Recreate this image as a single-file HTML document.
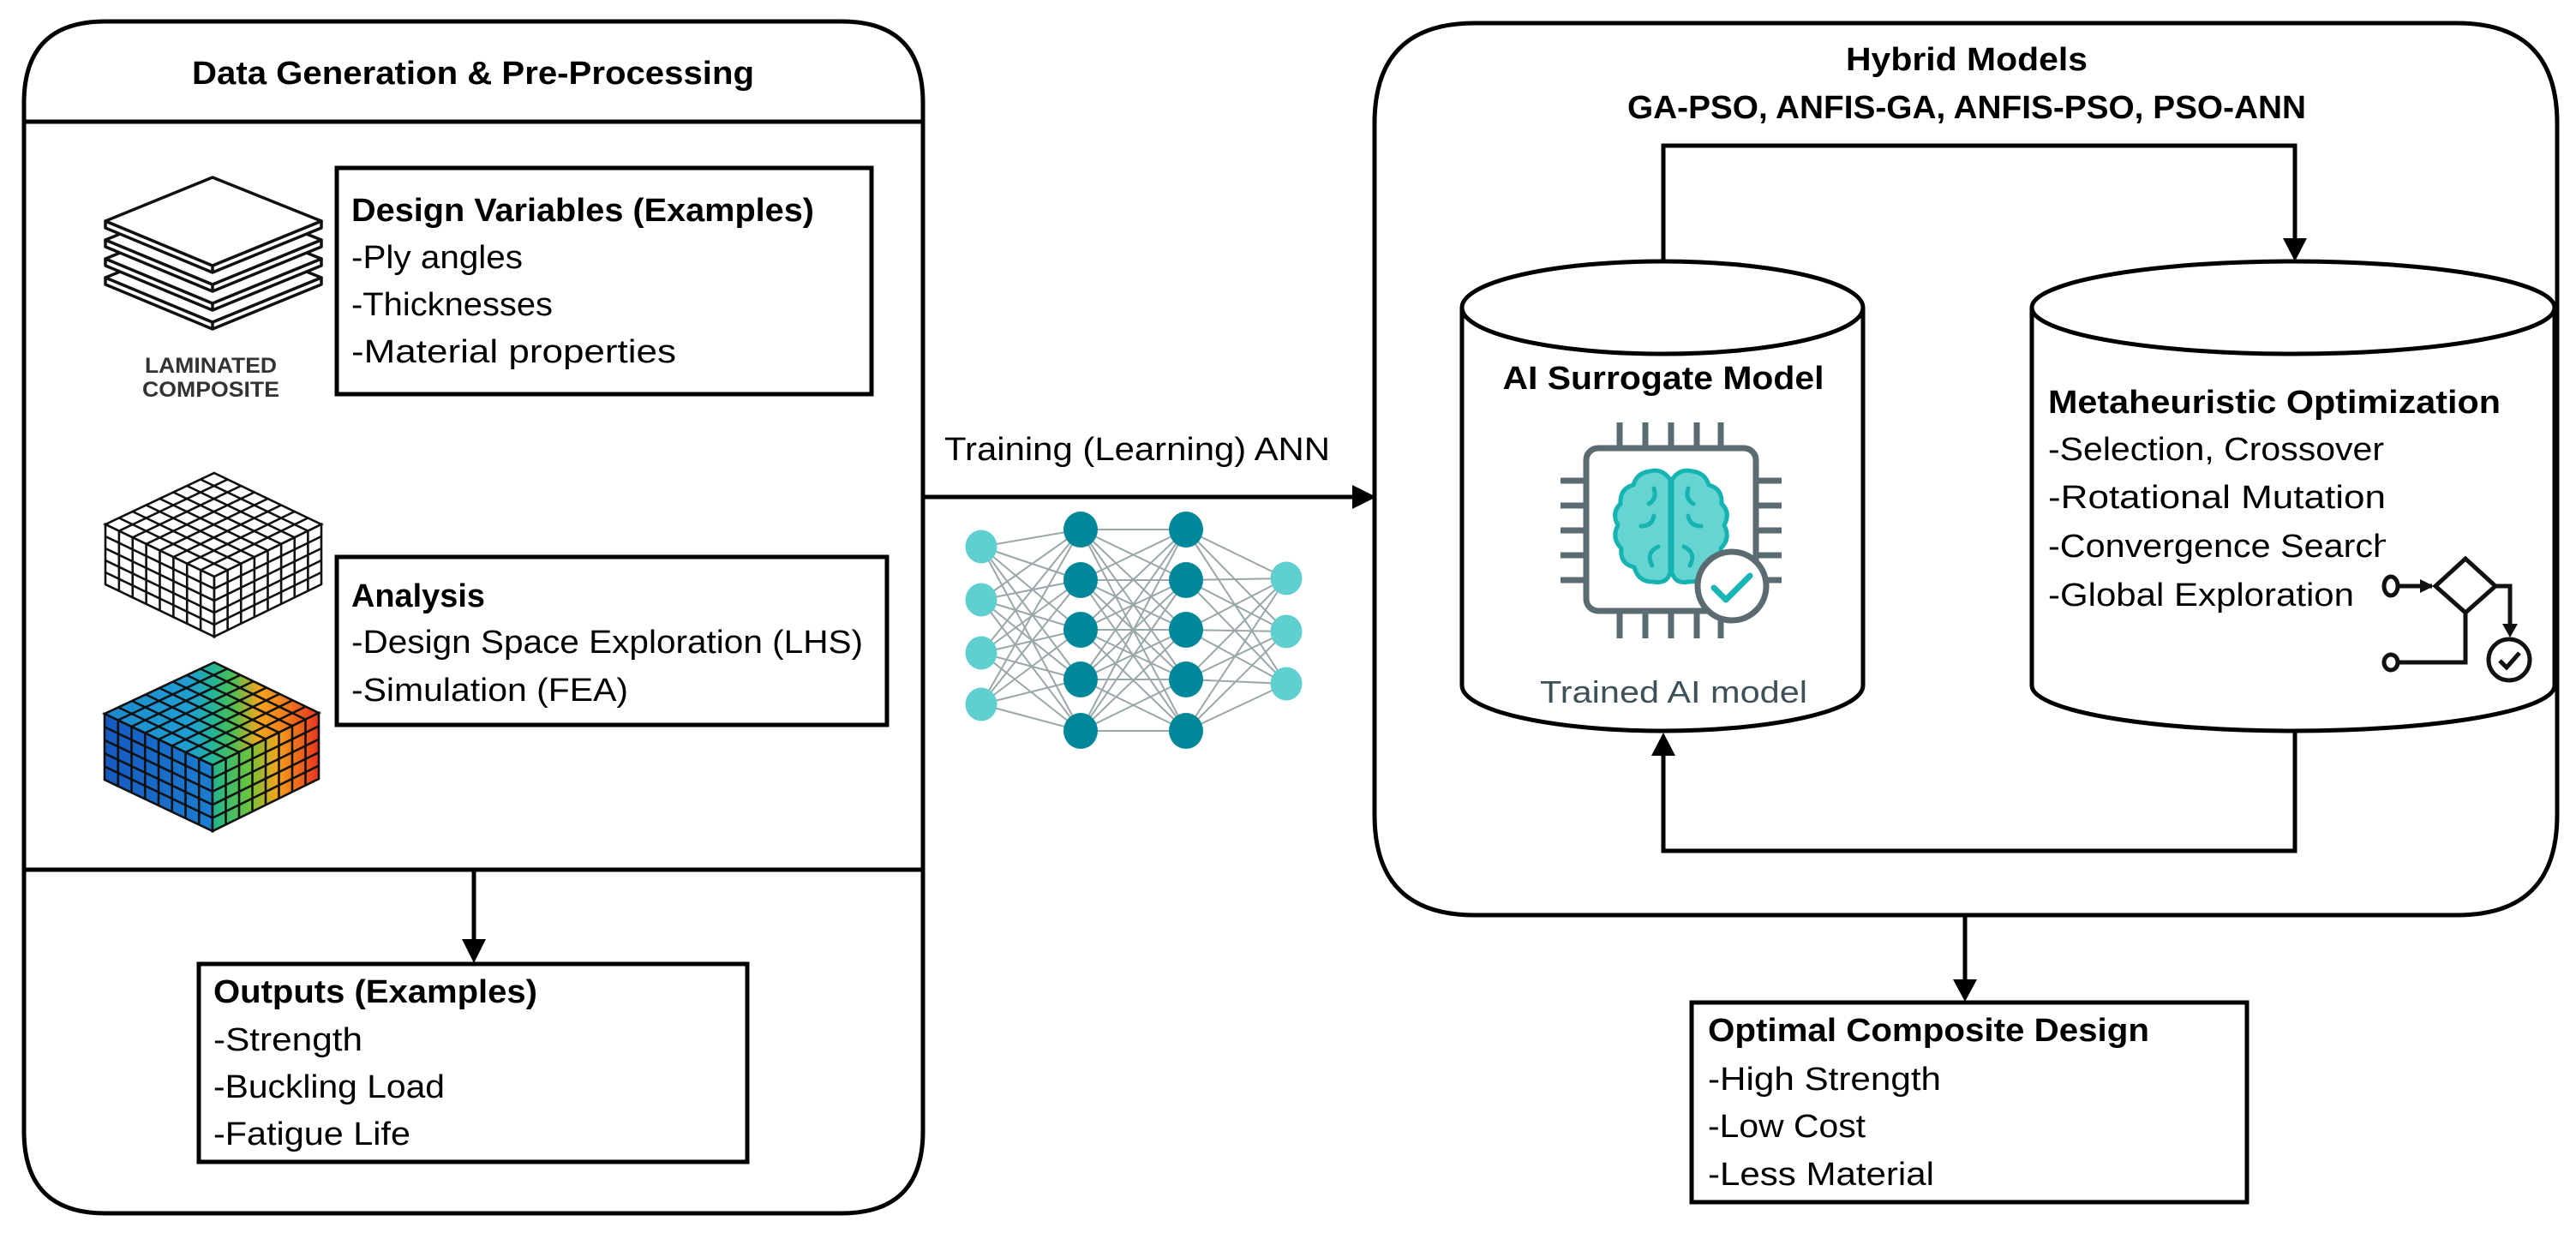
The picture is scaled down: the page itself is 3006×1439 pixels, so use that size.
<!DOCTYPE html>
<html><head><meta charset="utf-8">
<style>
html,body{margin:0;padding:0;background:#fff;}
svg{display:block;}
text{font-family:"Liberation Sans",sans-serif;}
</style></head>
<body>
<svg id="s" width="3006" height="1439" viewBox="0 0 3006 1439" xmlns="http://www.w3.org/2000/svg">
<defs>
<marker id="ah" markerWidth="10" markerHeight="10" refX="9" refY="5" orient="auto" markerUnits="userSpaceOnUse" viewBox="0 0 10 10">
</marker>
<linearGradient id="gTop" x1="0" y1="0" x2="1" y2="0">
<stop offset="0" stop-color="#1e88cc"/><stop offset="0.4" stop-color="#1f9ed3"/>
<stop offset="0.5" stop-color="#22b39a"/><stop offset="0.6" stop-color="#4cbf52"/>
<stop offset="0.72" stop-color="#f2a51c"/><stop offset="0.85" stop-color="#f07a1e"/><stop offset="1" stop-color="#e8321f"/>
</linearGradient>
<linearGradient id="gL" x1="0" y1="0" x2="1" y2="0">
<stop offset="0" stop-color="#1659c0"/><stop offset="1" stop-color="#1b7ed0"/>
</linearGradient>
<linearGradient id="gR" x1="0" y1="0" x2="1" y2="0">
<stop offset="0" stop-color="#20b48e"/><stop offset="0.35" stop-color="#6cc43a"/>
<stop offset="0.6" stop-color="#f3a41b"/><stop offset="1" stop-color="#e8341f"/>
</linearGradient>
<clipPath id="mclip"><rect x="2380" y="500" width="404" height="230"/></clipPath>
</defs>

<!-- Left container -->
<path d="M28,1015 L28,120 Q28,25 123,25 L982,25 Q1077,25 1077,120 L1077,1320 Q1077,1416 982,1416 L123,1416 Q28,1416 28,1320 Z" fill="none" stroke="#000" stroke-width="5"/>
<line x1="28" y1="142" x2="1077" y2="142" stroke="#000" stroke-width="5"/>
<line x1="28" y1="1015" x2="1077" y2="1015" stroke="#000" stroke-width="5"/>
<text x="552" y="98" text-anchor="middle" font-weight="bold" font-size="38" textLength="656" lengthAdjust="spacingAndGlyphs">Data Generation &amp; Pre-Processing</text>

<!-- Design box -->
<rect x="393" y="196" width="624" height="264" fill="none" stroke="#000" stroke-width="5"/>
<g font-size="38">
<text x="410" y="258" font-weight="bold" textLength="540" lengthAdjust="spacingAndGlyphs">Design Variables (Examples)</text>
<text x="410" y="313" textLength="200" lengthAdjust="spacingAndGlyphs">-Ply angles</text>
<text x="410" y="368" textLength="235" lengthAdjust="spacingAndGlyphs">-Thicknesses</text>
<text x="410" y="423" textLength="379" lengthAdjust="spacingAndGlyphs">-Material properties</text>
</g>

<!-- Analysis box -->
<rect x="393" y="650" width="642" height="196" fill="none" stroke="#000" stroke-width="5"/>
<g font-size="38">
<text x="410" y="708" font-weight="bold" textLength="156" lengthAdjust="spacingAndGlyphs">Analysis</text>
<text x="410" y="762" textLength="597" lengthAdjust="spacingAndGlyphs">-Design Space Exploration (LHS)</text>
<text x="410" y="818" textLength="323" lengthAdjust="spacingAndGlyphs">-Simulation (FEA)</text>
</g>

<!-- Outputs -->
<line x1="553" y1="1015" x2="553" y2="1098" stroke="#000" stroke-width="5"/>
<polygon points="539,1096 567,1096 553,1124" fill="#000"/>
<rect x="232" y="1125" width="640" height="231" fill="none" stroke="#000" stroke-width="5"/>
<g font-size="38">
<text x="249" y="1170" font-weight="bold" textLength="378" lengthAdjust="spacingAndGlyphs">Outputs (Examples)</text>
<text x="249" y="1226" textLength="174" lengthAdjust="spacingAndGlyphs">-Strength</text>
<text x="249" y="1281" textLength="270" lengthAdjust="spacingAndGlyphs">-Buckling Load</text>
<text x="249" y="1336" textLength="230" lengthAdjust="spacingAndGlyphs">-Fatigue Life</text>
</g>

<!-- Laminated icon -->
<g id="lam" fill="#fff" stroke="#111" stroke-width="3.5" stroke-linejoin="round"></g>
<text x="246" y="435" text-anchor="middle" font-weight="bold" font-size="25" fill="#333" textLength="154" lengthAdjust="spacingAndGlyphs">LAMINATED</text>
<text x="246" y="463" text-anchor="middle" font-weight="bold" font-size="25" fill="#333" textLength="160" lengthAdjust="spacingAndGlyphs">COMPOSITE</text>

<g id="mesh"></g>
<g id="fea"></g>

<!-- Training arrow -->
<line x1="1077" y1="580" x2="1580" y2="580" stroke="#000" stroke-width="5"/>
<polygon points="1578,566 1606,580 1578,594" fill="#000"/>
<text x="1102" y="537" font-size="38" textLength="450" lengthAdjust="spacingAndGlyphs">Training (Learning) ANN</text>

<g id="nn"></g>

<!-- Right container -->
<path d="M1604,144 Q1604,27 1721,27 L2867,27 Q2984,27 2984,144 L2984,951 Q2984,1068 2867,1068 L1721,1068 Q1604,1068 1604,951 Z" fill="none" stroke="#000" stroke-width="5"/>
<text x="2295" y="82" text-anchor="middle" font-weight="bold" font-size="38" textLength="282" lengthAdjust="spacingAndGlyphs">Hybrid Models</text>
<text x="2295" y="138" text-anchor="middle" font-weight="bold" font-size="38" textLength="792" lengthAdjust="spacingAndGlyphs">GA-PSO, ANFIS-GA, ANFIS-PSO, PSO-ANN</text>

<!-- top loop -->
<polyline points="1941,305 1941,170 2678,170 2678,280" fill="none" stroke="#000" stroke-width="5"/>
<polygon points="2664,278 2692,278 2678,305" fill="#000"/>
<!-- bottom loop -->
<polyline points="2678,853 2678,993 1941,993 1941,880" fill="none" stroke="#000" stroke-width="5"/>
<polygon points="1927,882 1955,882 1941,855" fill="#000"/>

<!-- Cylinder 1 -->
<path d="M1706,359 L1706,800 A234,53 0 0 0 2174,800 L2174,359" fill="#fff" stroke="#000" stroke-width="5"/>
<ellipse cx="1940" cy="359" rx="234" ry="54" fill="#fff" stroke="#000" stroke-width="5"/>
<text x="1941" y="454" text-anchor="middle" font-weight="bold" font-size="38" textLength="375" lengthAdjust="spacingAndGlyphs">AI Surrogate Model</text>
<text x="1953" y="820" text-anchor="middle" font-size="36" fill="#3e5159" textLength="312" lengthAdjust="spacingAndGlyphs">Trained AI model</text>

<!-- chip icon -->
<g stroke="#5b6b72" stroke-width="7" stroke-linecap="butt" fill="none">
<path d="M1890,493V523M1920,493V523M1950,493V523M1980,493V523M2008,493V523"/>
<path d="M1890,713V745M1920,713V745M1950,713V745M1980,713V745M2008,713V745"/>
<path d="M1821,561H1851M1821,590H1851M1821,619H1851M1821,648H1851M1821,677H1851"/>
<path d="M2049,561H2079M2049,590H2079M2049,619H2079M2049,648H2079M2049,677H2079"/>
<rect x="1851" y="523" width="198" height="190" rx="14" fill="#fff"/>
</g>
<!-- brain -->
<g fill="#66d4d1" stroke="#16b3b3" stroke-width="5" stroke-linejoin="round">
<path d="M1949,560 Q1940,546 1925,550 Q1910,552 1906,566 Q1890,570 1891,588 Q1880,598 1888,613 Q1880,628 1892,640 Q1890,658 1907,662 Q1912,680 1930,679 Q1945,682 1949,668 Z"/>
<path d="M1951,560 Q1960,546 1975,550 Q1990,552 1994,566 Q2010,570 2009,588 Q2020,598 2012,613 Q2020,628 2008,640 Q2010,658 1993,662 Q1988,680 1970,679 Q1955,682 1951,668 Z"/>
</g>
<g fill="none" stroke="#16b3b3" stroke-width="5" stroke-linecap="round">
<path d="M1930,570 Q1934,582 1924,588"/><path d="M1970,570 Q1966,582 1976,588"/>
<path d="M1915,614 Q1928,614 1930,602"/><path d="M1985,614 Q1972,614 1970,602"/>
<path d="M1928,660 Q1920,645 1935,638"/><path d="M1972,660 Q1980,645 1965,638"/>
</g>
<circle cx="2021" cy="684" r="40" fill="#fff" stroke="#5b6b72" stroke-width="7"/>
<polyline points="2000,686 2014,700 2042,672" fill="none" stroke="#1ab5b5" stroke-width="7" stroke-linecap="round" stroke-linejoin="round"/>

<!-- Cylinder 2 -->
<path d="M2371,359 L2371,800 A305,53 0 0 0 2981,800 L2981,359" fill="#fff" stroke="#000" stroke-width="5"/>
<ellipse cx="2676" cy="359" rx="305" ry="54" fill="#fff" stroke="#000" stroke-width="5"/>
<text x="2390" y="482" font-weight="bold" font-size="38" textLength="528" lengthAdjust="spacingAndGlyphs">Metaheuristic Optimization</text>
<g font-size="38" clip-path="url(#mclip)">
<text x="2390" y="537" textLength="392" lengthAdjust="spacingAndGlyphs">-Selection, Crossover</text>
<text x="2390" y="593" textLength="394" lengthAdjust="spacingAndGlyphs">-Rotational Mutation</text>
<text x="2390" y="650" textLength="402" lengthAdjust="spacingAndGlyphs">-Convergence Search</text>
</g>
<text x="2390" y="707" font-size="38" textLength="357" lengthAdjust="spacingAndGlyphs">-Global Exploration</text>

<!-- flow icon -->
<g fill="none" stroke="#111" stroke-width="5">
<ellipse cx="2790" cy="684" rx="8" ry="11"/>
<line x1="2798" y1="684" x2="2838" y2="684"/>
<polygon points="2842,684 2877,652 2912,684 2877,715"/>
<polyline points="2912,684 2929,684 2929,728"/>
<circle cx="2928" cy="770" r="24"/>
<polyline points="2917,771 2925,779 2940,762"/>
<polyline points="2877,715 2877,773 2798,773"/>
<ellipse cx="2790" cy="773" rx="8" ry="9"/>
</g>
<polygon points="2824,676 2840,684 2824,692" fill="#111"/>
<polygon points="2920,728 2938,728 2929,744" fill="#111"/>

<!-- Optimal -->
<line x1="2293" y1="1068" x2="2293" y2="1145" stroke="#000" stroke-width="5"/>
<polygon points="2279,1143 2307,1143 2293,1169" fill="#000"/>
<rect x="1974" y="1170" width="648" height="233" fill="none" stroke="#000" stroke-width="5"/>
<g font-size="38">
<text x="1993" y="1215" font-weight="bold" textLength="515" lengthAdjust="spacingAndGlyphs">Optimal Composite Design</text>
<text x="1993" y="1272" textLength="272" lengthAdjust="spacingAndGlyphs">-High Strength</text>
<text x="1993" y="1327" textLength="184" lengthAdjust="spacingAndGlyphs">-Low Cost</text>
<text x="1993" y="1383" textLength="264" lengthAdjust="spacingAndGlyphs">-Less Material</text>
</g>
</svg>
<script>
(function(){
var NS="http://www.w3.org/2000/svg";
function el(p,t,a){var e=document.createElementNS(NS,t);for(var k in a)e.setAttribute(k,a[k]);p.appendChild(e);return e;}
function L(a,b,t){return [a[0]+(b[0]-a[0])*t,a[1]+(b[1]-a[1])*t];}
function pt(p){return p[0].toFixed(1)+","+p[1].toFixed(1);}
// laminated plates
var lam=document.getElementById("lam");
for(var i=3;i>=0;i--){
 var dy=i*22;
 var T=[248,207+dy],Lf=[123,258+dy],R=[375,258+dy],F=[248,310+dy],th=8;
 el(lam,"polygon",{points:[pt(Lf),pt(F),pt(R),pt([R[0],R[1]+th]),pt([F[0],F[1]+th]),pt([Lf[0],Lf[1]+th])].join(" ")});
 el(lam,"line",{x1:F[0],y1:F[1],x2:F[0],y2:F[1]+th});
 el(lam,"polygon",{points:[pt(T),pt(R),pt(F),pt(Lf)].join(" ")});
}
function box(g,T,Lf,R,F,h,colored){
 var n=8,m=5,sw=2.6,c="#111";
 var Lb=[Lf[0],Lf[1]+h],Fb=[F[0],F[1]+h],Rb=[R[0],R[1]+h];
 el(g,"polygon",{points:[pt(T),pt(R),pt(F),pt(Lf)].join(" "),fill:colored?"url(#gTop)":"#fff",stroke:c,"stroke-width":sw});
 el(g,"polygon",{points:[pt(Lf),pt(F),pt(Fb),pt(Lb)].join(" "),fill:colored?"url(#gL)":"#fff",stroke:c,"stroke-width":sw});
 el(g,"polygon",{points:[pt(F),pt(R),pt(Rb),pt(Fb)].join(" "),fill:colored?"url(#gR)":"#fff",stroke:c,"stroke-width":sw});
 for(var i=1;i<n;i++){
  var a=L(T,Lf,i/n),b=L(R,F,i/n);el(g,"line",{x1:a[0],y1:a[1],x2:b[0],y2:b[1],stroke:c,"stroke-width":sw});
  a=L(T,R,i/n);b=L(Lf,F,i/n);el(g,"line",{x1:a[0],y1:a[1],x2:b[0],y2:b[1],stroke:c,"stroke-width":sw});
  a=L(Lf,F,i/n);el(g,"line",{x1:a[0],y1:a[1],x2:a[0],y2:a[1]+h,stroke:c,"stroke-width":sw});
  a=L(F,R,i/n);el(g,"line",{x1:a[0],y1:a[1],x2:a[0],y2:a[1]+h,stroke:c,"stroke-width":sw});
 }
 for(var j=1;j<m;j++){
  var d=h*j/m;
  el(g,"polyline",{points:[pt([Lf[0],Lf[1]+d]),pt([F[0],F[1]+d]),pt([R[0],R[1]+d])].join(" "),fill:"none",stroke:c,"stroke-width":sw});
 }
}
box(document.getElementById("mesh"),[250,552],[123,612],[375,612],[250,673],70,false);
box(document.getElementById("fea"),[250,773],[122,833],[372,832],[248,893],77,true);
// NN
var nn=document.getElementById("nn");
var layers=[[1145,[638,700,762,822],18.5,"#5fd0cf"],[1261,[618,677,735,793,853],20,"#00889a"],[1384,[618,677,735,793,853],20,"#00889a"],[1501,[675,737,798],18.5,"#5fd0cf"]];
for(var k=0;k<3;k++){var A=layers[k],B=layers[k+1];
 A[1].forEach(function(y1){B[1].forEach(function(y2){el(nn,"line",{x1:A[0],y1:y1,x2:B[0],y2:y2,stroke:"#9aa7aa","stroke-width":2});});});}
layers.forEach(function(Ly){Ly[1].forEach(function(y){el(nn,"ellipse",{cx:Ly[0],cy:y,rx:Ly[2],ry:Ly[2]+1,fill:Ly[3]});});});
})();
</script>
</body></html>
